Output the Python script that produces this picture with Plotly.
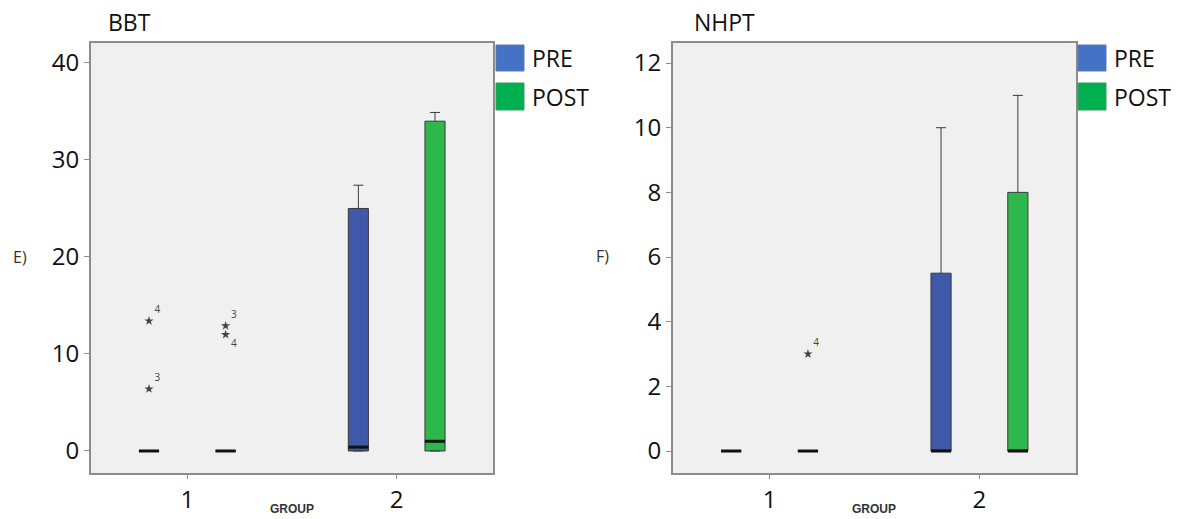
import plotly.graph_objects as go

# ---------------- data ----------------
groups = [1, 2]
series = ["PRE", "POST"]

# BBT box statistics per group (index 0 -> group 1, index 1 -> group 2)
bbt_pre_q1 = [0, 0]
bbt_pre_med = [0, 0.4]
bbt_pre_q3 = [0, 25]
bbt_pre_lo = [0, 0]
bbt_pre_hi = [0, 27.4]

bbt_post_q1 = [0, 0]
bbt_post_med = [0, 1]
bbt_post_q3 = [0, 34]
bbt_post_lo = [0, 0]
bbt_post_hi = [0, 34.9]

# BBT outliers (group, value, case label)
bbt_pre_out_group = [1, 1]
bbt_pre_out_val = [13.4, 6.4]
bbt_pre_out_lab = ["4", "3"]
bbt_post_out_group = [1, 1]
bbt_post_out_val = [12.9, 12.0]
bbt_post_out_lab = ["3", "4"]

# NHPT box statistics
nhpt_pre_q1 = [0, 0]
nhpt_pre_med = [0, 0]
nhpt_pre_q3 = [0, 5.5]
nhpt_pre_lo = [0, 0]
nhpt_pre_hi = [0, 10]

nhpt_post_q1 = [0, 0]
nhpt_post_med = [0, 0]
nhpt_post_q3 = [0, 8]
nhpt_post_lo = [0, 0]
nhpt_post_hi = [0, 11]

nhpt_post_out_group = [1]
nhpt_post_out_val = [3.0]
nhpt_post_out_lab = ["4"]

bbt_ticks = [0, 10, 20, 30, 40]
nhpt_ticks = [0, 2, 4, 6, 8, 10, 12]

# ---------------- style ----------------
W, H = 1185, 519
FONT = "Open Sans"
OFF = {"PRE": -0.183, "POST": 0.183}
BW = 0.096
FILL = {"PRE": "#3F58A9", "POST": "#2EB84B"}
LEG = {"PRE": "#4472C4", "POST": "#00B050"}
FRAME = "#8C8C8C"

fig = go.Figure()


def add_panel(xa, ya, stats, outliers):
    for s in series:
        q1, med, q3, lo, hi = stats[s]
        xs = [g + OFF[s] for g in groups]
        fig.add_trace(go.Box(
            x=xs, q1=q1, median=med, q3=q3, lowerfence=lo, upperfence=hi,
            width=BW, whiskerwidth=0.5, boxpoints=False,
            fillcolor=FILL[s], line=dict(color="#3A3A3A", width=1),
            xaxis=xa, yaxis=ya, showlegend=False, hoverinfo="skip"))
        # thick black median bars
        mx, my = [], []
        for xv, mv in zip(xs, med):
            mx += [xv - BW / 2, xv + BW / 2, None]
            my += [mv, mv, None]
        fig.add_trace(go.Scatter(
            x=mx, y=my, mode="lines", line=dict(color="#111111", width=3),
            xaxis=xa, yaxis=ya, showlegend=False, hoverinfo="skip"))
    for s, (og, ov, ol, pos) in outliers.items():
        for g, v, l, p in zip(og, ov, ol, pos):
            fig.add_trace(go.Scatter(
                x=[g + OFF[s]], y=[v], mode="markers+text",
                marker=dict(symbol="star", size=7, color="#444444"),
                text=[l], textposition=p,
                textfont=dict(family=FONT, size=10, color="#444444"),
                xaxis=xa, yaxis=ya, showlegend=False, hoverinfo="skip"))


add_panel("x", "y",
          {"PRE": (bbt_pre_q1, bbt_pre_med, bbt_pre_q3, bbt_pre_lo, bbt_pre_hi),
           "POST": (bbt_post_q1, bbt_post_med, bbt_post_q3, bbt_post_lo, bbt_post_hi)},
          {"PRE": (bbt_pre_out_group, bbt_pre_out_val, bbt_pre_out_lab,
                   ["top right", "top right"]),
           "POST": (bbt_post_out_group, bbt_post_out_val, bbt_post_out_lab,
                    ["top right", "bottom right"])})

add_panel("x2", "y2",
          {"PRE": (nhpt_pre_q1, nhpt_pre_med, nhpt_pre_q3, nhpt_pre_lo, nhpt_pre_hi),
           "POST": (nhpt_post_q1, nhpt_post_med, nhpt_post_q3, nhpt_post_lo, nhpt_post_hi)},
          {"POST": (nhpt_post_out_group, nhpt_post_out_val, nhpt_post_out_lab,
                    ["top right"])})


def px(v):
    return v / W


def py(v):
    return 1 - v / H


ydom = [py(473), py(43)]
common_x = dict(range=[0.54, 2.46], tickvals=groups, ticktext=[str(g) for g in groups],
                showline=True, linecolor=FRAME, linewidth=2, mirror=True,
                ticks="outside", ticklen=4, tickcolor=FRAME, showgrid=False,
                zeroline=False, tickfont=dict(family=FONT, size=24, color="#111111"),
                fixedrange=True)
common_y = dict(showline=True, linecolor=FRAME, linewidth=2, mirror=True,
                ticks="outside", ticklen=5, tickcolor=FRAME, showgrid=False,
                zeroline=False, tickfont=dict(family=FONT, size=24, color="#111111"),
                domain=ydom, fixedrange=True)

fig.update_layout(
    width=W, height=H,
    margin=dict(l=0, r=0, t=0, b=0),
    paper_bgcolor="white", plot_bgcolor="#F0F0F0",
    xaxis=dict(domain=[px(91), px(493)], anchor="y", **common_x),
    yaxis=dict(range=[-2.27, 42.06], tickvals=bbt_ticks, anchor="x", **common_y),
    xaxis2=dict(domain=[px(673), px(1076)], anchor="y2", **common_x),
    yaxis2=dict(range=[-0.68, 12.62], tickvals=nhpt_ticks, anchor="x2", **common_y),
    showlegend=False,
)

shapes = []
annotations = []
# legends
for x0 in (496, 1078):
    for s, (y0, y1, yc) in zip(series, [(45, 71, 58), (83, 110, 97)]):
        shapes.append(dict(type="rect", xref="paper", yref="paper",
                           x0=px(x0), x1=px(x0 + 28), y0=py(y1), y1=py(y0),
                           fillcolor=LEG[s], line=dict(color="#5A7AB0" if s == "PRE" else "#3C9A5A", width=1)))
        annotations.append(dict(xref="paper", yref="paper", x=px(x0 + 34), y=py(yc),
                                text=s, showarrow=False, xanchor="left", yanchor="middle",
                                font=dict(family=FONT, size=23, color="#111111")))

# panel titles
annotations.append(dict(xref="paper", yref="paper", x=px(106), y=py(22), text="BBT",
                        showarrow=False, xanchor="left", yanchor="middle",
                        font=dict(family=FONT, size=23, color="#111111")))
annotations.append(dict(xref="paper", yref="paper", x=px(692), y=py(22), text="NHPT",
                        showarrow=False, xanchor="left", yanchor="middle",
                        font=dict(family=FONT, size=23, color="#111111")))
# side labels
annotations.append(dict(xref="paper", yref="paper", x=px(11), y=py(257), text="E)",
                        showarrow=False, xanchor="left", yanchor="middle",
                        font=dict(family=FONT, size=16, color="#333333")))
annotations.append(dict(xref="paper", yref="paper", x=px(594), y=py(256), text="F)",
                        showarrow=False, xanchor="left", yanchor="middle",
                        font=dict(family=FONT, size=16, color="#333333")))
# GROUP axis labels
for xc in (292, 874):
    annotations.append(dict(xref="paper", yref="paper", x=px(xc), y=py(509), text="<b>GROUP</b>",
                            showarrow=False, xanchor="center", yanchor="middle",
                            font=dict(family="Liberation Sans", size=12, color="#333333")))

fig.update_layout(shapes=shapes, annotations=annotations)

fig.write_html("out.html",
               config={"displayModeBar": False, "staticPlot": True},
               post_script="document.body.style.margin='0';document.body.style.padding='0';"
                           "document.body.style.overflow='hidden';")
